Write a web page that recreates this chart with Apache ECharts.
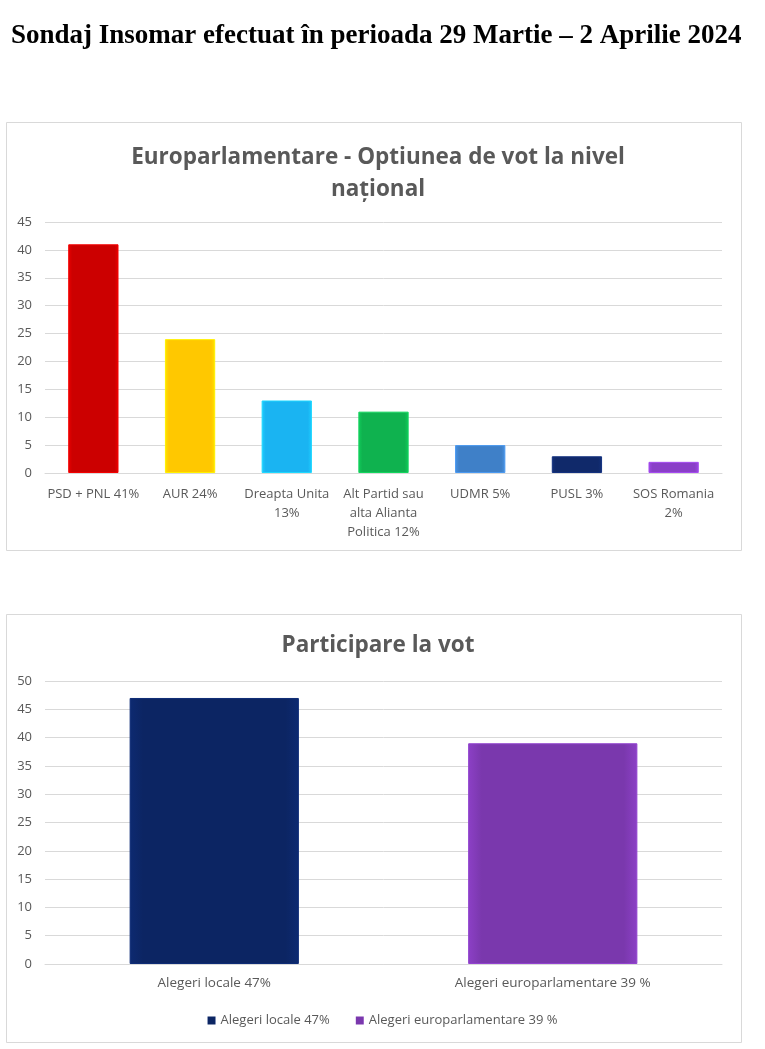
<!DOCTYPE html>
<html lang="ro">
<head>
<meta charset="UTF-8">
<title>Sondaj Insomar</title>
<script src="https://cdn.jsdelivr.net/npm/echarts@6/dist/echarts.min.js"></script>
<style>
  html, body { margin: 0; padding: 0; background: #fff; }
  #chart { width: 765px; height: 1049px; }
</style>
</head>
<body>
<div id="chart"></div>
<script>
// sondaj 1: optiunea de vot europarlamentare
var partide = ['PSD + PNL 41%', 'AUR 24%', 'Dreapta Unita\n13%', 'Alt Partid sau\nalta Alianta\nPolitica 12%', 'UDMR 5%', 'PUSL 3%', 'SOS Romania\n2%'];
var procente = [41, 24, 13, 11, 5, 3, 2];
var culoriPartide = ['#cc0000', '#ffc800', '#1ab4f2', '#0fb24f', '#3f80c8', '#10296a', '#8a3fc8'];

// sondaj 2: participare la vot
var alegeri = ['Alegeri locale 47%', 'Alegeri europarlamentare 39 %'];
var participare = [47, 39];
var culoriAlegeri = ['#0c2563', '#7a38ad'];

var gri = '#595959';
var font = 'Open Sans';

function bevel(c) {
    return {
        type: 'linear', x: 0, y: 0, x2: 1, y2: 0,
        colorStops: [
            {offset: 0, color: echarts.color.lift(c, -0.15)},
            {offset: 0.08, color: c},
            {offset: 0.92, color: c},
            {offset: 1, color: echarts.color.lift(c, -0.15)}
        ]
    };
}

var ch = echarts.init(document.getElementById('chart'));

var seriesJos = alegeri.map(function (name, i) {
    var d = alegeri.map(function (_, j) { return j === i ? participare[i] : null; });
    return {
        name: name,
        type: 'bar',
        xAxisIndex: 1,
        yAxisIndex: 1,
        barWidth: '50%',
        barGap: '-100%',
        itemStyle: {color: bevel(culoriAlegeri[i]), borderColor: echarts.color.lift(culoriAlegeri[i], -0.2), borderWidth: 1},
        data: d
    };
});

var option = {
    backgroundColor: '#fff',
    animation: false,
    textStyle: {fontFamily: font},
    graphic: [
        {type: 'rect', shape: {x: 6.5, y: 122.5, width: 735, height: 428}, style: {fill: 'none', stroke: '#d9d9d9', lineWidth: 1}},
        {type: 'rect', shape: {x: 6.5, y: 614.5, width: 735, height: 428}, style: {fill: 'none', stroke: '#d9d9d9', lineWidth: 1}}
    ],
    title: [{
        text: 'Sondaj Insomar efectuat în perioada 29 Martie – 2 Aprilie 2024',
        left: 6, top: 18,
        textStyle: {fontFamily: 'Liberation Serif', fontWeight: 'bold', fontSize: 27, color: '#000'}
    }, {
        text: 'Europarlamentare - Optiunea de vot la nivel\nnațional',
        left: 373, top: 137, textAlign: 'center',
        textStyle: {fontFamily: font, fontWeight: 'bold', fontSize: 22.5, lineHeight: 32, color: gri}
    }, {
        text: 'Participare la vot',
        left: 373, top: 629, textAlign: 'center',
        textStyle: {fontFamily: font, fontWeight: 'bold', fontSize: 22.5, color: gri}
    }],
    legend: {
        data: alegeri,
        left: 'center', top: 1009,
        icon: 'rect', itemWidth: 8, itemHeight: 8, itemGap: 26, itemStyle: {borderWidth: 0},
        textStyle: {color: gri, fontSize: 13, fontFamily: font}
    },
    grid: [
        {left: 45, right: 43, top: 222, bottom: 576},
        {left: 45, right: 43, top: 681, bottom: 85}
    ],
    xAxis: [{
        type: 'category', gridIndex: 0, data: partide,
        axisLine: {lineStyle: {color: '#d9d9d9'}}, axisTick: {show: false},
        axisLabel: {color: gri, fontSize: 13, lineHeight: 19, margin: 12, interval: 0}
    }, {
        type: 'category', gridIndex: 1, data: alegeri,
        axisLine: {lineStyle: {color: '#d9d9d9'}}, axisTick: {show: false},
        axisLabel: {color: gri, fontSize: 13.5, margin: 12, interval: 0}
    }],
    yAxis: [{
        type: 'value', gridIndex: 0, min: 0, max: 45, interval: 5,
        axisLine: {show: false}, axisTick: {show: false},
        axisLabel: {color: gri, fontSize: 13, margin: 13},
        splitLine: {lineStyle: {color: '#d9d9d9'}}
    }, {
        type: 'value', gridIndex: 1, min: 0, max: 50, interval: 5,
        axisLine: {show: false}, axisTick: {show: false},
        axisLabel: {color: gri, fontSize: 13, margin: 13},
        splitLine: {lineStyle: {color: '#d9d9d9'}}
    }],
    series: [{
        name: 'Optiunea de vot',
        type: 'bar',
        xAxisIndex: 0, yAxisIndex: 0,
        barWidth: '52%',
        data: procente.map(function (v, i) {
            return {
                value: v,
                itemStyle: {color: bevel(culoriPartide[i]), borderColor: echarts.color.lift(culoriPartide[i], -0.2), borderWidth: 1}
            };
        })
    }].concat(seriesJos)
};

ch.setOption(option);
</script>
</body>
</html>
